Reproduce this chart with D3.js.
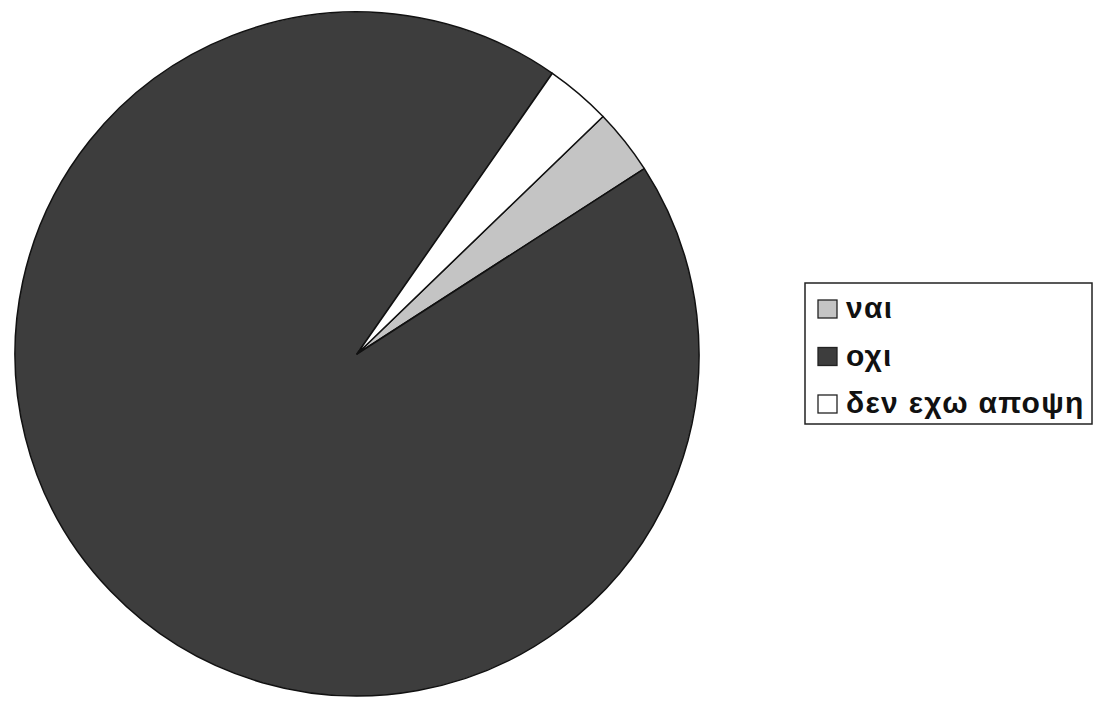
<!DOCTYPE html>
<html>
<head>
<meta charset="utf-8">
<script src="https://cdn.jsdelivr.net/npm/d3@7"></script>
<style>
  body { margin: 0; background: #fff; }
  svg { display: block; }
</style>
</head>
<body>
<svg></svg>
<script>
const width = 1098;
const height = 703;

// data (percent)
const categories = ["ναι", "οχι", "δεν εχω αποψη"];
const values = [3.1, 93.8, 3.1];
const colors = ["#c4c4c4", "#3d3d3d", "#ffffff"];

const svg = d3.select("svg").attr("width", width).attr("height", height);

const cx = 357, cy = 354, radius = 342;
const start = 46 * Math.PI / 180;

const color = d3.scaleOrdinal().domain(categories).range(colors);

const pie = d3.pie()
	.sort(null)
	.value((d, i) => values[i])
	.startAngle(start)
	.endAngle(start + 2 * Math.PI);

const arc = d3.arc().innerRadius(0).outerRadius(radius);

const g = svg.append("g").attr("transform", `translate(${cx},${cy})`);

g.selectAll("path")
	.data(pie(categories))
	.enter()
	.append("path")
	.attr("d", arc)
	.attr("fill", (d) => color(d.data))
	.attr("stroke", "#111")
	.attr("stroke-width", 1.5)
	.attr("stroke-linejoin", "round");

// legend
const legend = svg.append("g").attr("transform", "translate(805,283)");

legend.append("rect")
	.attr("width", 287)
	.attr("height", 141)
	.attr("fill", "#fff")
	.attr("stroke", "#222")
	.attr("stroke-width", 1.5);

const rowY = d3.scalePoint().domain(categories).range([35, 130]);

const item = legend.selectAll(".item")
	.data(categories)
	.enter()
	.append("g")
	.attr("class", "item")
	.attr("transform", (d) => `translate(0,${rowY(d)})`);

item.append("rect")
	.attr("x", 13)
	.attr("y", -18)
	.attr("width", 19)
	.attr("height", 18)
	.attr("fill", (d) => color(d))
	.attr("stroke", "#222")
	.attr("stroke-width", 1.3);

item.append("text")
	.attr("x", 41)
	.attr("y", 0)
	.attr("font-family", "Liberation Sans, Arial, sans-serif")
	.attr("font-weight", "bold")
	.attr("font-size", 30)
	.attr("letter-spacing", 1.3)
	.attr("fill", "#111")
	.text((d) => d);
</script>
</body>
</html>
